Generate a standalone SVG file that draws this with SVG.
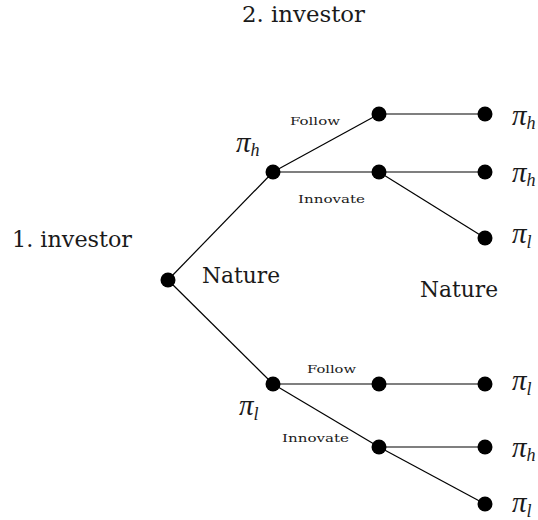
<svg xmlns="http://www.w3.org/2000/svg" width="538" height="520" viewBox="0 0 538 520">
<style>
.e{stroke:#000;stroke-width:1.2;fill:none}
.n{fill:#000}
text{font-family:'DejaVu Serif','Liberation Serif',serif;fill:#1a1a1a}
.t{font-size:23px}
.s{font-size:11px}
.p{font-family:'Liberation Serif','Times New Roman',serif;font-style:italic;font-size:29px}
.b{font-size:18px}
</style>
<rect width="538" height="520" fill="#fff"/>
<g id="connectors">
<line class="e" x1="168" y1="280" x2="273" y2="172"/>
<line class="e" x1="168" y1="280" x2="273" y2="384"/>
<line class="e" x1="273" y1="172" x2="379" y2="114"/>
<line class="e" x1="273" y1="172" x2="379" y2="172"/>
<line class="e" x1="379" y1="114" x2="485" y2="114"/>
<line class="e" x1="379" y1="172" x2="485" y2="172"/>
<line class="e" x1="379" y1="172" x2="485" y2="238"/>
<line class="e" x1="273" y1="384" x2="379" y2="384"/>
<line class="e" x1="273" y1="384" x2="379" y2="447"/>
<line class="e" x1="379" y1="384" x2="485" y2="384"/>
<line class="e" x1="379" y1="447" x2="485" y2="447"/>
<line class="e" x1="379" y1="447" x2="485" y2="504"/>
</g>
<g id="labels">
<text class="t" x="242" y="22" textLength="123" lengthAdjust="spacingAndGlyphs">2. investor</text>
<text class="t" x="12" y="247" textLength="120" lengthAdjust="spacingAndGlyphs">1. investor</text>
<text class="t" x="420" y="297" textLength="78" lengthAdjust="spacingAndGlyphs">Nature</text>
<text class="s" x="290" y="125" textLength="50" lengthAdjust="spacingAndGlyphs">Follow</text>
<text class="s" x="298" y="203" textLength="67" lengthAdjust="spacingAndGlyphs">Innovate</text>
<text class="s" x="307" y="373" textLength="49" lengthAdjust="spacingAndGlyphs">Follow</text>
<text class="s" x="282" y="442" textLength="67" lengthAdjust="spacingAndGlyphs">Innovate</text>
</g>
<g id="root">
<circle class="n" cx="168" cy="280" r="7.5"/>
<text class="t" x="202" y="283" textLength="78" lengthAdjust="spacingAndGlyphs">Nature</text>
</g>
<g id="nature-high">
<circle class="n" cx="273" cy="172" r="7.5"/>
<text class="p" x="236" y="152">π<tspan class="b" dy="4">h</tspan></text>
</g>
<g id="nature-low">
<circle class="n" cx="273" cy="384" r="7.5"/>
<text class="p" x="239" y="415">π<tspan class="b" dy="5">l</tspan></text>
</g>
<g id="h-follow"><circle class="n" cx="379" cy="114" r="7.5"/></g>
<g id="h-innovate"><circle class="n" cx="379" cy="172" r="7.5"/></g>
<g id="l-follow"><circle class="n" cx="379" cy="384" r="7.5"/></g>
<g id="l-innovate"><circle class="n" cx="379" cy="447" r="7.5"/></g>
<g id="t1"><circle class="n" cx="485" cy="114" r="7.5"/><text class="p" x="512" y="125">π<tspan class="b" dy="4">h</tspan></text></g>
<g id="t2"><circle class="n" cx="485" cy="172" r="7.5"/><text class="p" x="512" y="182">π<tspan class="b" dy="4">h</tspan></text></g>
<g id="t3"><circle class="n" cx="485" cy="238" r="7.5"/><text class="p" x="512" y="243">π<tspan class="b" dy="5">l</tspan></text></g>
<g id="t4"><circle class="n" cx="485" cy="384" r="7.5"/><text class="p" x="512" y="390">π<tspan class="b" dy="5">l</tspan></text></g>
<g id="t5"><circle class="n" cx="485" cy="447" r="7.5"/><text class="p" x="512" y="457">π<tspan class="b" dy="4">h</tspan></text></g>
<g id="t6"><circle class="n" cx="485" cy="504" r="7.5"/><text class="p" x="512" y="512">π<tspan class="b" dy="5">l</tspan></text></g>
</svg>
